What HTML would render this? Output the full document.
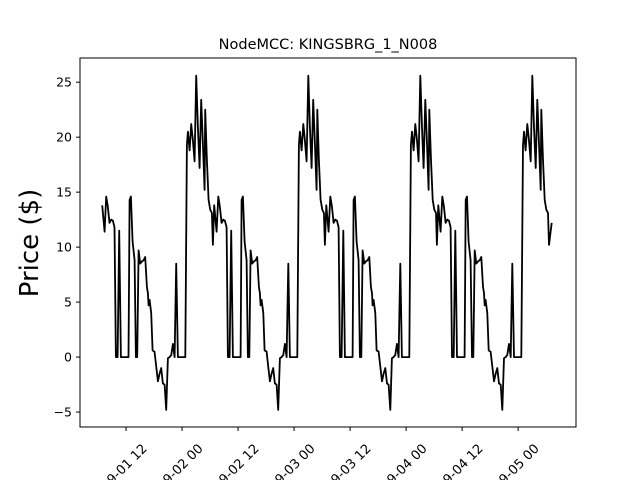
<!DOCTYPE html>
<html><head><meta charset="utf-8"><style>
html,body{margin:0;padding:0;background:#fff;}
svg{display:block;font-family:"DejaVu Sans","Liberation Sans",sans-serif;}
</style></head><body>
<svg id="chart" width="640" height="480" viewBox="0 0 640 480">
<rect x="0" y="0" width="640" height="480" fill="#fff"/>
<text x="328" y="49" font-size="14.5" text-anchor="middle">NodeMCC: KINGSBRG_1_N008</text>
<text transform="translate(38,243) rotate(-90)" font-size="26" text-anchor="middle">Price ($)</text>
<g id="plot"></g>
</svg>
<script>
// Hours offset within each day cycle (first sample at hour startHour)
const dayHours = [0,0.5,0.86,1.2,1.57,1.93,2.29,2.64,2.93,3.29,3.64,4,5.64,5.86,6.14,6.5,6.93,7.21,7.5,7.79,8.14,8.5,8.86,9.21,9.57,9.79,9.93,10.14,10.5,10.79,11.21,11.5,11.93,12.29,12.64,13,13.36,13.71,14.07,14.43,14.79,15.14,15.5,15.86,16.21,17.79,18.14,18.36,18.71,19.07,19.43,19.79,20.14,20.5,20.86,21.21,21.57,21.93,22.07,22.43,22.79,23.14,23.5,23.71];
const dayPrices = [13.8,11.4,14.6,13.7,12.2,12.5,12.4,11.8,0,0,11.5,0,0,14.3,14.6,10.5,8.8,0,0,9.7,8.5,8.7,8.8,9.1,6.4,5.8,4.7,5.2,4.0,0.6,0.5,-0.6,-2.2,-1.5,-1.0,-2.4,-2.5,-4.8,-0.1,0,0.2,1.2,0,8.5,0,0,19.3,20.5,18.8,21.2,19.7,17.8,25.6,20.9,17.2,23.4,19.4,15.2,22.5,17.9,14.3,13.4,13.1,10.2];
const numDays = [0,1,2,3];
const startHour = 6.9;
const finalPoint = [103.2, 12.2];
const tickHours = [12,24,36,48,60,72,84,96];
const tickLabels = ["09-01 12","09-02 00","09-02 12","09-03 00","09-03 12","09-04 00","09-04 12","09-05 00"];
const yTicks = [-5,0,5,10,15,20,25];

const L=80,R=576,T=58,B=427;
const xMin=2.14,xMax=108.4,yMin=-6.36,yMax=27.2;
const xs=h=>L+(h-xMin)/(xMax-xMin)*(R-L);
const ys=v=>B-(v-yMin)/(yMax-yMin)*(B-T);
const NS="http://www.w3.org/2000/svg";
const g=document.getElementById('plot');
function mk(tag,attrs){const e=document.createElementNS(NS,tag);for(const k in attrs)e.setAttribute(k,attrs[k]);return e;}

let pts=[];
numDays.forEach(d=>{dayHours.forEach((h,i)=>{pts.push([startHour+d*24+h,dayPrices[i]]);});});
pts.push([finalPoint[0],finalPoint[1]]);
const line=mk('polyline',{points:pts.map(p=>xs(p[0]).toFixed(1)+','+ys(p[1]).toFixed(1)).join(' '),fill:'none',stroke:'#000','stroke-width':1.8,'stroke-linejoin':'round'});


g.appendChild(line);

const frame=mk('rect',{x:L,y:T,width:R-L,height:B-T,fill:'none',stroke:'#000','stroke-width':1});


g.appendChild(frame);

yTicks.forEach(v=>{
  const y=ys(v);
  const t=mk('line',{x1:L-4,x2:L,y1:y,y2:y,stroke:'#000','stroke-width':1});
  
  
  g.appendChild(t);
  const tx=mk('text',{x:L-8,y:y+4.5,'font-size':12.5,'text-anchor':'end'});
  tx.textContent=v<0?'\u2212'+Math.abs(v):String(v);
  
  
  g.appendChild(tx);
});
tickHours.forEach((h,i)=>{
  const x=xs(h);
  const t=mk('line',{x1:x,x2:x,y1:B,y2:B+4,stroke:'#000','stroke-width':1});
  
  
  g.appendChild(t);
  const tx=mk('text',{x:0,y:0,'font-size':13,'text-anchor':'middle',transform:'translate('+(x+1)+','+(B+43)+') rotate(-45)'});
  tx.textContent=tickLabels[i];
  
  
  g.appendChild(tx);
});
</script>
</body></html>
